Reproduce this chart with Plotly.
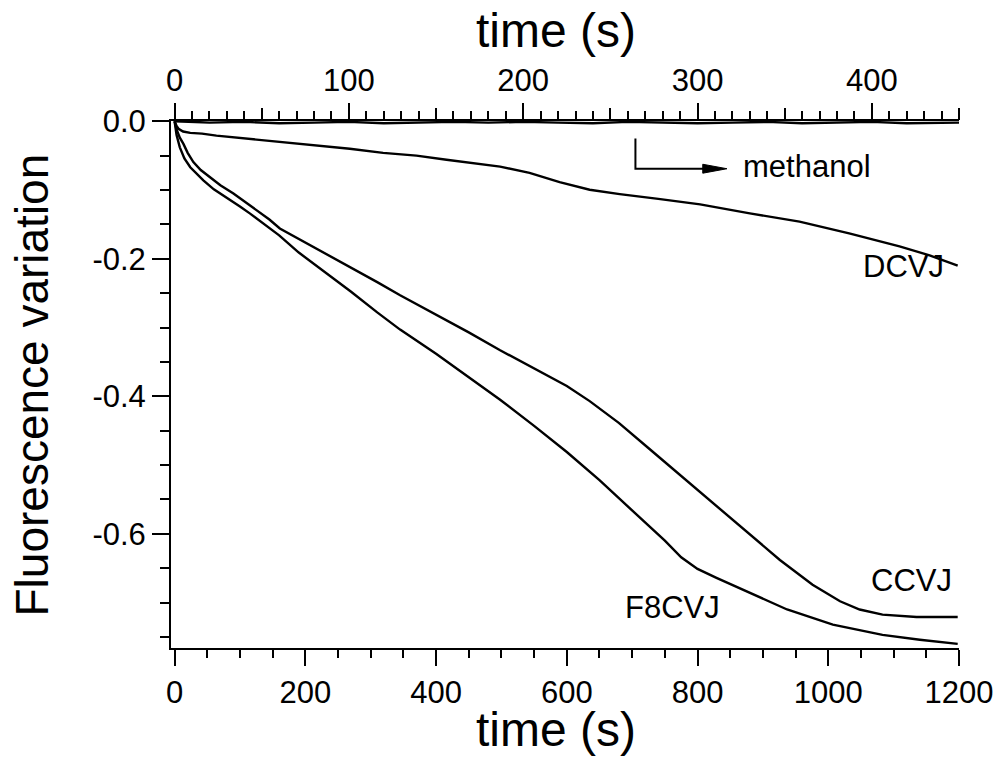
import plotly.graph_objects as go

FONT = "Liberation Sans, Arial, Helvetica, sans-serif"

# ---- data (bottom axis: time in s, 0-1200) ----
f8cvj_t = [0, 3, 8, 15, 24, 34, 44, 60, 80, 100, 115, 140, 160, 190, 230, 270, 310, 345,
           400, 450, 498, 550, 600, 650, 700, 750, 775, 800, 829, 880, 937, 1007, 1083,
           1140, 1198]
f8cvj_v = [0, -0.020, -0.038, -0.054, -0.067, -0.077, -0.086, -0.099, -0.111, -0.124,
           -0.134, -0.152, -0.166, -0.191, -0.219, -0.248, -0.278, -0.303, -0.338,
           -0.372, -0.405, -0.443, -0.481, -0.522, -0.566, -0.610, -0.634, -0.651,
           -0.664, -0.686, -0.710, -0.732, -0.747, -0.754, -0.760]

ccvj_t = [0, 3, 8, 13.5, 20, 28.7, 40, 54, 70, 90, 110, 126, 145, 161, 192, 230, 268,
          310, 345, 400, 450, 498, 550, 600, 635, 680, 727, 770, 804, 850, 880, 926, 976,
          1018, 1048, 1083, 1135, 1198]
ccvj_v = [0, -0.012, -0.024, -0.033, -0.046, -0.0595, -0.071, -0.081, -0.093, -0.105,
          -0.119, -0.130, -0.143, -0.156, -0.172, -0.192, -0.212, -0.234, -0.253,
          -0.281, -0.307, -0.333, -0.360, -0.385, -0.407, -0.439, -0.477, -0.512,
          -0.540, -0.577, -0.601, -0.638, -0.674, -0.698, -0.710, -0.7175, -0.721,
          -0.721]

dcvj_t = [0, 3, 6, 13, 24, 42, 64, 80, 115, 156, 217, 268, 319, 370, 416, 460, 498, 543,
          589, 635, 681, 740, 804, 880, 956, 1032, 1109, 1155, 1198]
dcvj_v = [0, -0.007, -0.011, -0.015, -0.017, -0.018, -0.021, -0.0225, -0.0256, -0.030,
          -0.035, -0.040, -0.046, -0.050, -0.056, -0.061, -0.066, -0.075, -0.0885,
          -0.0996, -0.106, -0.113, -0.121, -0.134, -0.146, -0.163, -0.182, -0.195,
          -0.210]

# ---- methanol (top axis: time in s, 0-450) ----
meoh_t = [0, 20, 40, 60, 80, 100, 120, 140, 160, 180, 200, 220, 240, 260, 280, 300,
          320, 340, 360, 380, 400, 420, 440, 450]
meoh_v = [0, -0.002, -0.001, -0.003, -0.002, -0.001, -0.003, -0.002, -0.001, -0.002,
          -0.001, -0.002, -0.003, -0.001, -0.002, -0.003, -0.002, -0.001, -0.003,
          -0.002, -0.001, -0.003, -0.002, -0.002]

y_tickvals = [0, -0.2, -0.4, -0.6]
y_ticktext = ["0.0", "-0.2", "-0.4", "-0.6"]
x_tickvals = [0, 200, 400, 600, 800, 1000, 1200]
x2_tickvals = [0, 100, 200, 300, 400]
x3_tickvals = [50, 150, 250, 350, 450]

XMIN, XMAX = -5.5, 1200
X2MIN, X2MAX = XMIN * 450 / 1200, 450
YMIN, YMAX = -0.766, 0.0003

line = dict(color="black", width=2.4)

fig = go.Figure()
fig.add_trace(go.Scatter(x=f8cvj_t, y=f8cvj_v, mode="lines", line=line, name="F8CVJ"))
fig.add_trace(go.Scatter(x=ccvj_t, y=ccvj_v, mode="lines", line=line, name="CCVJ"))
fig.add_trace(go.Scatter(x=dcvj_t, y=dcvj_v, mode="lines", line=line, name="DCVJ"))
fig.add_trace(go.Scatter(x=meoh_t, y=meoh_v, mode="lines", line=line, name="methanol",
                         xaxis="x2"))
fig.add_trace(go.Scatter(x=[None], y=[None], xaxis="x3", showlegend=False,
                         hoverinfo="skip"))

tickfont = dict(family=FONT, size=31, color="black")

fig.update_layout(
    width=1000, height=766,
    margin=dict(l=171, r=41, t=121, b=118, autoexpand=False),
    paper_bgcolor="white", plot_bgcolor="white",
    showlegend=False,
    font=dict(family=FONT, color="black"),
    xaxis=dict(range=[XMIN, XMAX], tickvals=x_tickvals, showline=True, linewidth=2,
               linecolor="black", ticks="outside", ticklen=16, tickwidth=2,
               tickcolor="black", tickfont=tickfont, showgrid=False, zeroline=False,
               automargin=False,
               minor=dict(tick0=0, dtick=50, ticks="outside", ticklen=8, tickwidth=2,
                          tickcolor="black", showgrid=False)),
    xaxis2=dict(range=[X2MIN, X2MAX], overlaying="x", side="top", anchor="y",
                tickvals=x2_tickvals, showline=True, linewidth=2, linecolor="black",
                ticks="outside", ticklen=16, tickwidth=2, tickcolor="black",
                tickfont=tickfont, showgrid=False, zeroline=False, automargin=False,
                minor=dict(tick0=0, dtick=10, ticks="outside", ticklen=8, tickwidth=2,
                           tickcolor="black", showgrid=False)),
    xaxis3=dict(range=[X2MIN, X2MAX], overlaying="x", side="top", anchor="y",
                tickvals=x3_tickvals, showline=False, ticks="outside", ticklen=12,
                tickwidth=2, tickcolor="black", showticklabels=False, showgrid=False,
                zeroline=False, automargin=False),
    yaxis=dict(range=[YMIN, YMAX], tickvals=y_tickvals, ticktext=y_ticktext,
               showline=True, linewidth=2, linecolor="black", ticks="outside",
               ticklen=17, tickwidth=2, tickcolor="black", tickfont=tickfont,
               showgrid=False, zeroline=False, automargin=False,
               minor=dict(tick0=0, dtick=0.05, ticks="outside", ticklen=9, tickwidth=2,
                          tickcolor="black", showgrid=False)),
)

xt_font = dict(family=FONT, size=48, color="black")
yt_font = dict(family=FONT, size=46, color="black")
annos = [
    dict(text="time (s)", xref="paper", yref="paper", x=0.4886, y=-0.155,
         xanchor="center", yanchor="middle", showarrow=False, font=xt_font),
    dict(text="time (s)", xref="paper", yref="paper", x=0.4886, y=1.171,
         xanchor="center", yanchor="middle", showarrow=False, font=xt_font),
    dict(text="Fluorescence variation", xref="paper", yref="paper", x=-0.1764, y=0.5,
         xanchor="center", yanchor="middle", textangle=-90, showarrow=False,
         font=yt_font),
]
lab_font = dict(family=FONT, size=31, color="black")
annos += [
    dict(text="DCVJ", x=1115, y=-0.211, xanchor="center", yanchor="middle",
         showarrow=False, font=lab_font),
    dict(text="CCVJ", x=1127, y=-0.668, xanchor="center", yanchor="middle",
         showarrow=False, font=lab_font),
    dict(text="F8CVJ", x=762, y=-0.707, xanchor="center", yanchor="middle",
         showarrow=False, font=lab_font),
    dict(text="methanol", x=867, y=-0.0658, xanchor="left", yanchor="middle",
         showarrow=False, font=lab_font),
]
fig.update_layout(annotations=annos)

# methanol arrow: bent line with a narrow filled head
fig.add_shape(type="path", path="M 705,-0.0251 L 705,-0.0691 L 812,-0.0691",
              line=dict(color="black", width=2))
fig.add_shape(type="path", path="M 808,-0.0626 L 845,-0.0691 L 808,-0.0756 Z",
              fillcolor="black", line=dict(color="black", width=1))

fig.write_html("out.html")
